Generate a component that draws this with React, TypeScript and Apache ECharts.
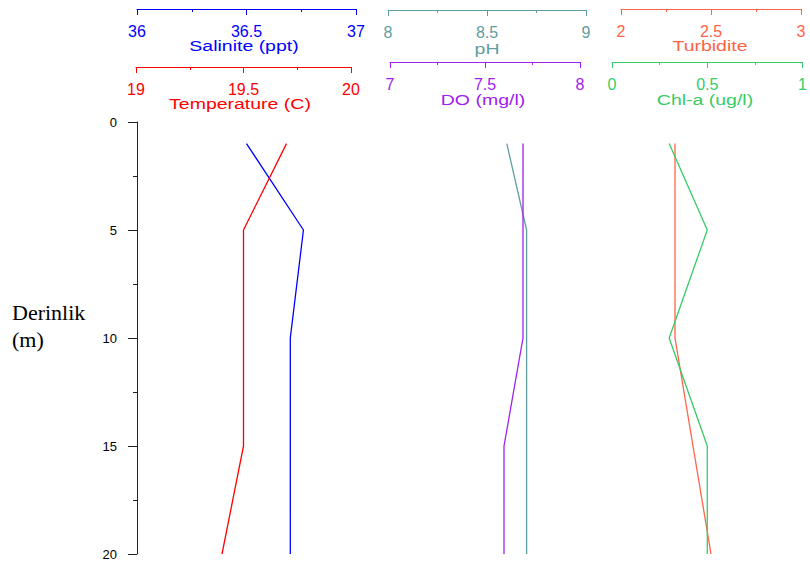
import React, { useEffect, useRef } from "react";
import * as echarts from "echarts";

// Depth (m) of each sample
const depth = [1, 5, 10, 15, 20];
// Measured values per depth
const salinity = [36.5, 36.76, 36.7, 36.7, 36.7];
const temperature = [19.7, 19.5, 19.5, 19.5, 19.4];
const ph = [8.6, 8.7, 8.7, 8.7, 8.7];
const dissolvedOxygen = [7.7, 7.7, 7.7, 7.6, 7.6];
const turbidity = [2.3, 2.3, 2.3, 2.4, 2.5];
const chlorophyll = [0.3, 0.5, 0.3, 0.5, 0.5];

// Axis ranges
const salRange = [36, 37];
const tempRange = [19, 20];
const phRange = [8, 9];
const doRange = [7, 8];
const turbRange = [2, 3];
const chlRange = [0, 1];
const depthRange = [0, 20];

const yTitle = ["Derinlik", "(m)"];

const params = [
  { name: "Salinite (ppt)", values: salinity, range: salRange, color: "#0000ff" },
  { name: "Temperature (C)", values: temperature, range: tempRange, color: "#ff0000" },
  { name: "pH", values: ph, range: phRange, color: "#5f9ea0" },
  { name: "DO (mg/l)", values: dissolvedOxygen, range: doRange, color: "#a020f0" },
  { name: "Turbidite", values: turbidity, range: turbRange, color: "#ff6347" },
  { name: "Chl-a (ug/l)", values: chlorophyll, range: chlRange, color: "#36cc66" },
];

// Layout (pixels) for each parameter axis
const layout = [
  { left: 137, width: 219, lineY: 9, titleY: 46, titleX: 244 },
  { left: 136, width: 215, lineY: 67, titleY: 104, titleX: 240 },
  { left: 388, width: 198, lineY: 10, titleY: 49, titleX: 487 },
  { left: 390, width: 190, lineY: 62, titleY: 100, titleX: 483 },
  { left: 621, width: 180, lineY: 9, titleY: 46, titleX: 710 },
  { left: 612, width: 192, lineY: 62, titleY: 100, titleX: 705 },
];

const GRID_TOP = 122;
const GRID_HEIGHT = 432;

export default function App() {
  const ref = useRef<HTMLDivElement>(null);
  useEffect(() => {
    if (!ref.current) return;
    const chart = echarts.init(ref.current, undefined, { renderer: "svg" });
    const grid = layout.map((l) => ({
      left: l.left,
      width: l.width,
      top: GRID_TOP,
      height: GRID_HEIGHT,
      containLabel: false,
    }));
    const xAxis = params.map((p, i) => ({
      type: "value",
      gridIndex: i,
      position: "top",
      offset: GRID_TOP - layout[i].lineY,
      min: p.range[0],
      max: p.range[1],
      interval: 0.5,
      axisLine: { show: true, onZero: false, lineStyle: { color: p.color, width: 1 } },
      axisTick: { show: true, inside: true, length: 6, lineStyle: { color: p.color, width: 1 } },
      minorTick: {
        show: true,
        splitNumber: 2,
        length: 3,
        lineStyle: { color: p.color, width: 1 },
      },
      axisLabel: {
        show: true,
        inside: true,
        margin: 14,
        color: p.color,
        fontSize: 16,
        fontFamily: "Liberation Sans",
      },
      splitLine: { show: false },
    }));
    const yAxis = params.map((p, i) => ({
      type: "value",
      gridIndex: i,
      inverse: true,
      min: depthRange[0],
      max: depthRange[1],
      interval: 5,
      show: i === 0,
      axisLine: { show: true, onZero: false, lineStyle: { color: "#222", width: 1 } },
      axisTick: { show: true, length: 9, lineStyle: { color: "#222", width: 1 } },
      minorTick: {
        show: true,
        splitNumber: 2,
        length: 4,
        lineStyle: { color: "#222", width: 1 },
      },
      axisLabel: {
        margin: 20,
        color: "#000",
        fontSize: 13,
        fontFamily: "Liberation Sans",
      },
      splitLine: { show: false },
    }));
    const series = params.map((p, i) => ({
      type: "line",
      xAxisIndex: i,
      yAxisIndex: i,
      data: depth.map((d, k) => [p.values[k], d]),
      symbol: "none",
      lineStyle: { color: p.color, width: 1.3 },
      silent: true,
    }));
    const graphic: any[] = params.map((p, i) => ({
      type: "text",
      x: layout[i].titleX,
      y: layout[i].titleY,
      scaleX: 1.3,
      style: {
        text: p.name,
        fill: p.color,
        font: '15px "Liberation Sans"',
        align: "center",
        verticalAlign: "middle",
      },
    }));
    yTitle.forEach((t, k) => {
      graphic.push({
        type: "text",
        x: 12,
        y: 312 + k * 27,
        style: {
          text: t,
          fill: "#000",
          font: '22px "Liberation Serif"',
          align: "left",
          verticalAlign: "middle",
        },
      });
    });
    chart.setOption({
      animation: false,
      backgroundColor: "#fff",
      grid,
      xAxis,
      yAxis,
      series,
      graphic,
    });
    return () => chart.dispose();
  }, []);
  return (
    <div
      ref={ref}
      style={{ position: "absolute", left: 0, top: 0, width: 810, height: 567 }}
    />
  );
}
